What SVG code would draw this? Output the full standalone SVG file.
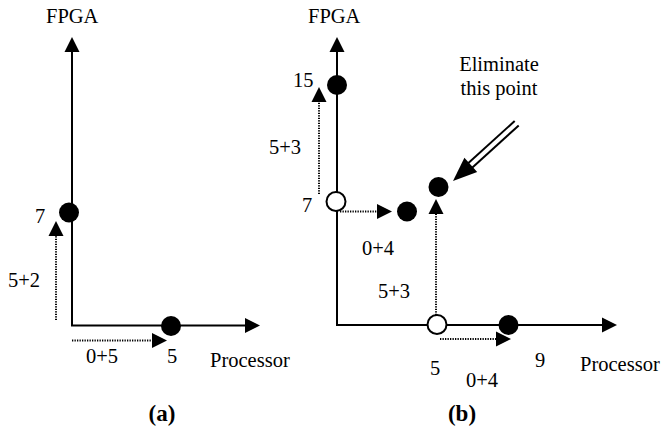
<svg xmlns="http://www.w3.org/2000/svg" width="663" height="431" viewBox="0 0 663 431">
<style>
text{font-family:'Liberation Serif','DejaVu Serif',serif;font-size:20.5px;fill:#000}
.cap{font-weight:bold;font-size:23px}
.axis{stroke:#000;stroke-width:2;fill:none;marker-end:url(#ah)}
.dot{stroke:#000;stroke-width:2;stroke-dasharray:1.3 1.2;fill:none;marker-end:url(#ah)}
.pf{fill:#000}
.po{fill:#fff;stroke:#000;stroke-width:2}
</style>
<defs>
<marker id="ah" markerUnits="userSpaceOnUse" markerWidth="16" markerHeight="16" refX="0" refY="7.5" orient="auto" overflow="visible">
<path d="M0,0 L15,7.5 L0,15 Z" fill="#000"/>
</marker>
</defs>
<g id="connectors">
<line class="axis" x1="72" y1="326" x2="72" y2="52"/>
<line class="axis" x1="71" y1="325.5" x2="245" y2="325.5"/>
<line class="dot" x1="56" y1="320" x2="56" y2="236"/>
<line class="dot" x1="72" y1="340.5" x2="152" y2="340.5"/>
<line class="axis" x1="337" y1="325" x2="337" y2="52"/>
<line class="axis" x1="336" y1="325" x2="602" y2="325"/>
<line class="dot" x1="319" y1="194" x2="319" y2="102"/>
<line class="dot" x1="340" y1="211.5" x2="377" y2="211.5"/>
<line class="dot" x1="436" y1="315" x2="436" y2="214"/>
<line class="dot" x1="440" y1="339" x2="496" y2="339"/>
<g id="eliminate-arrow" transform="translate(453,181) rotate(-42.2)">
<polygon points="0,0 24,-9.5 24,9.5" fill="#000"/>
<line x1="22" y1="-3" x2="86" y2="-3" stroke="#000" stroke-width="2"/>
<line x1="22" y1="3" x2="86" y2="3" stroke="#000" stroke-width="2"/>
</g>
</g>
<g id="panel-a" font-family="Liberation Serif, DejaVu Serif, serif">
<text x="46" y="23">FPGA</text>
<text x="210" y="367">Processor</text>
<g id="a-p7"><circle class="pf" cx="69" cy="212.5" r="10"/><text x="35" y="223">7</text></g>
<g id="a-p5"><circle class="pf" cx="171" cy="326" r="10"/><text x="167" y="363">5</text></g>
<text x="8" y="287">5+2</text>
<text x="86" y="363">0+5</text>
<text class="cap" x="162" y="421" text-anchor="middle">(a)</text>
</g>
<g id="panel-b" font-family="Liberation Serif, DejaVu Serif, serif">
<text x="308" y="23">FPGA</text>
<text x="580" y="371">Processor</text>
<g id="b-p15"><circle class="pf" cx="337" cy="85" r="10"/><text x="293" y="87">15</text></g>
<g id="b-p7"><circle class="po" cx="336" cy="201.5" r="9.5"/><text x="302" y="212">7</text></g>
<g id="b-p4-7"><circle class="pf" cx="407" cy="211.5" r="10"/></g>
<g id="b-elim"><circle class="pf" cx="438.5" cy="187" r="10"/></g>
<g id="b-p5"><circle class="po" cx="437" cy="324.5" r="9.5"/><text x="430" y="375">5</text></g>
<g id="b-p9"><circle class="pf" cx="508.5" cy="325" r="10"/><text x="535" y="367">9</text></g>
<text x="269" y="154">5+3</text>
<text x="362" y="255">0+4</text>
<text x="378" y="298">5+3</text>
<text x="466" y="387">0+4</text>
<text x="499" y="71" text-anchor="middle">Eliminate</text>
<text x="499" y="95" text-anchor="middle">this point</text>
<text class="cap" x="462" y="421" text-anchor="middle">(b)</text>
</g>
</svg>
